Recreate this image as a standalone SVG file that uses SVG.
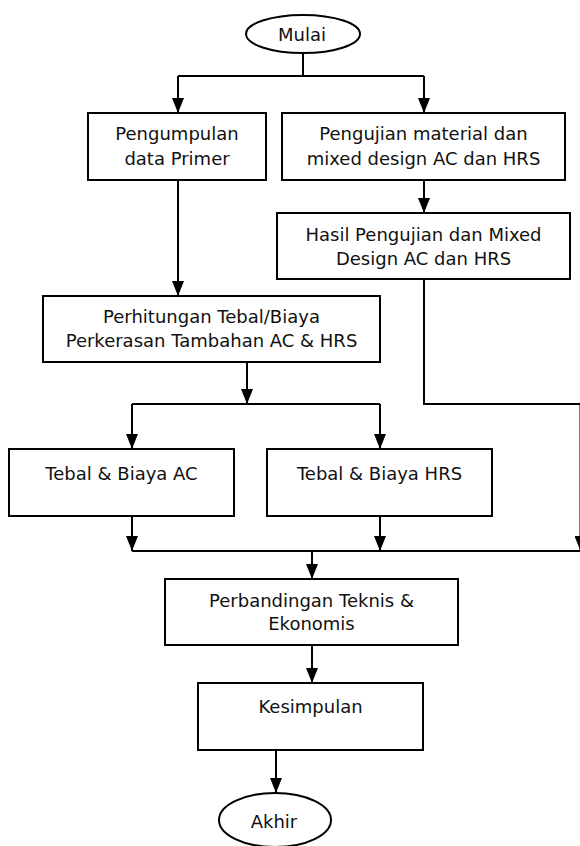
<svg xmlns="http://www.w3.org/2000/svg" width="580" height="846" viewBox="0 0 580 846">
<defs>
<style>
.n{fill:#fff;stroke:#000;stroke-width:2}
.t{font-family:"DejaVu Sans","Liberation Sans",sans-serif;font-size:18px;fill:#111;text-anchor:middle}
.c{fill:none;stroke:#000;stroke-width:2}
</style>
<marker id="arr" markerUnits="userSpaceOnUse" markerWidth="15" markerHeight="12" viewBox="0 0 15 12" refX="15" refY="6" orient="auto">
<path d="M0,0 L15,6 L0,12 z" fill="#000"/>
</marker>
</defs>
<rect width="580" height="846" fill="#fff"/>
<g id="connectors">
<path class="c" d="M303,53 V76"/>
<path class="c" d="M178,76 H424"/>
<path class="c" d="M178,76 V113" marker-end="url(#arr)"/>
<path class="c" d="M424,76 V113" marker-end="url(#arr)"/>
<path class="c" d="M178,180 V296" marker-end="url(#arr)"/>
<path class="c" d="M424,180 V213" marker-end="url(#arr)"/>
<path class="c" d="M424,279 V404 H580.5"/>
<path class="c" d="M580.5,404 V551" marker-end="url(#arr)"/>
<path class="c" d="M247,362 V404" marker-end="url(#arr)"/>
<path class="c" d="M132,404 H380"/>
<path class="c" d="M132,404 V449" marker-end="url(#arr)"/>
<path class="c" d="M380,404 V449" marker-end="url(#arr)"/>
<path class="c" d="M132,516 V551" marker-end="url(#arr)"/>
<path class="c" d="M380,516 V551" marker-end="url(#arr)"/>
<path class="c" d="M132,551 H580"/>
<path class="c" d="M312,551 V579" marker-end="url(#arr)"/>
<path class="c" d="M312,645 V683" marker-end="url(#arr)"/>
<path class="c" d="M276,750 V793" marker-end="url(#arr)"/>
</g>
<g id="mulai">
<ellipse class="n" cx="303" cy="34" rx="57" ry="19"/>
<text class="t" x="302" y="41">Mulai</text>
</g>
<g id="pengumpulan">
<rect class="n" x="88" y="113" width="178" height="67"/>
<text class="t" x="177" y="140">Pengumpulan</text>
<text class="t" x="177" y="165">data Primer</text>
</g>
<g id="pengujian">
<rect class="n" x="282" y="113" width="283" height="67"/>
<text class="t" x="423.5" y="140">Pengujian material dan</text>
<text class="t" x="423.5" y="165">mixed design AC dan HRS</text>
</g>
<g id="hasil">
<rect class="n" x="277" y="213" width="293" height="66"/>
<text class="t" x="423.5" y="241">Hasil Pengujian dan Mixed</text>
<text class="t" x="423.5" y="265">Design AC dan HRS</text>
</g>
<g id="perhitungan">
<rect class="n" x="43" y="296" width="337" height="66"/>
<text class="t" x="211.5" y="323">Perhitungan Tebal/Biaya</text>
<text class="t" x="211.5" y="347">Perkerasan Tambahan AC &amp; HRS</text>
</g>
<g id="tebal-ac">
<rect class="n" x="9" y="449" width="225" height="67"/>
<text class="t" x="121.5" y="480">Tebal &amp; Biaya AC</text>
</g>
<g id="tebal-hrs">
<rect class="n" x="267" y="449" width="225" height="67"/>
<text class="t" x="379.5" y="480">Tebal &amp; Biaya HRS</text>
</g>
<g id="perbandingan">
<rect class="n" x="165" y="579" width="293" height="66"/>
<text class="t" x="311.5" y="607">Perbandingan Teknis &amp;</text>
<text class="t" x="311.5" y="630">Ekonomis</text>
</g>
<g id="kesimpulan">
<rect class="n" x="198" y="683" width="225" height="67"/>
<text class="t" x="310.5" y="713">Kesimpulan</text>
</g>
<g id="akhir">
<ellipse class="n" cx="275" cy="820" rx="56" ry="27"/>
<text class="t" x="274" y="828">Akhir</text>
</g>
</svg>
